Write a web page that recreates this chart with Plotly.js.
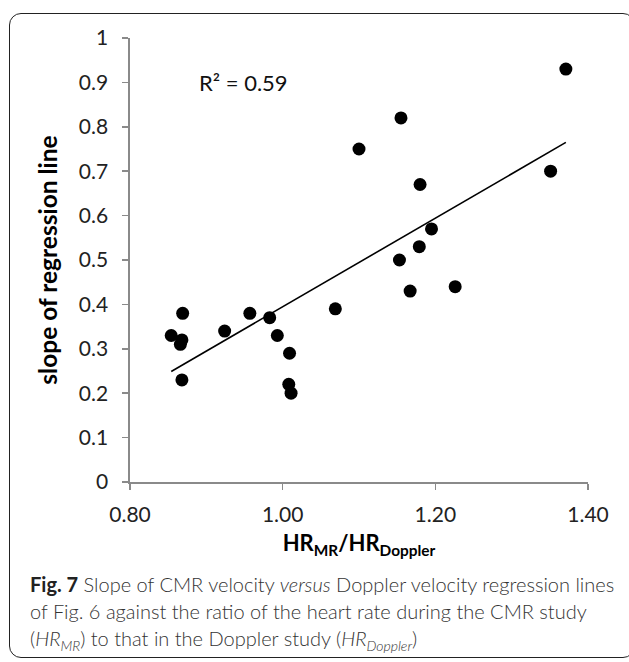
<!DOCTYPE html>
<html>
<head>
<meta charset="utf-8">
<script src="https://cdn.plot.ly/plotly-3.0.1.min.js"></script>
<style>
  html, body { margin: 0; padding: 0; background: #fff; }
  #wrap { position: relative; width: 629px; height: 662px; overflow: hidden; }
  #chart { position: absolute; left: 0; top: 0; width: 629px; height: 662px; }
  #frame { position: absolute; left: 9px; top: 13px; width: 626px; height: 645px;
           border: 1.6px solid #222; border-radius: 12px; box-sizing: border-box; pointer-events: none; }
  #caption { position: absolute; left: 30px; top: 571px; width: 600px;
             font-family: Lato, "Open Sans", sans-serif; font-size: 20px; line-height: 27px;
             color: #333; font-weight: 300; white-space: nowrap; }
  #caption b { font-weight: 700; color: #222; }
  #caption sub { font-size: 70%; vertical-align: -0.35em; line-height: 0; }
</style>
</head>
<body>
<div id="wrap">
  <div id="chart"></div>
  <div id="frame"></div>
  <div id="caption"><b>Fig. 7</b> Slope of CMR velocity <i>versus</i> Doppler velocity regression lines<br>of Fig. 6 against the ratio of the heart rate during the CMR study<br>(<i>HR<sub>MR</sub></i>) to that in the Doppler study (<i>HR<sub>Doppler</sub></i>)</div>
</div>
<script>
// Data
const hrRatio = [0.854, 0.869, 0.868, 0.866, 0.868, 0.924, 0.957, 0.983, 0.993, 1.009, 1.008, 1.011,
                 1.069, 1.100, 1.155, 1.180, 1.195, 1.179, 1.153, 1.167, 1.226, 1.351, 1.371];
const slopeVal = [0.33, 0.38, 0.32, 0.31, 0.23, 0.34, 0.38, 0.37, 0.33, 0.29, 0.22, 0.20,
                  0.39, 0.75, 0.82, 0.67, 0.57, 0.53, 0.50, 0.43, 0.44, 0.70, 0.93];
const yTickVals = [0, 0.1, 0.2, 0.3, 0.4, 0.5, 0.6, 0.7, 0.8, 0.9, 1];
const yTickText = ["0", "0.1", "0.2", "0.3", "0.4", "0.5", "0.6", "0.7", "0.8", "0.9", "1"];
const xTickVals = [0.8, 1.0, 1.2, 1.4];
const xTickText = ["0.80", "1.00", "1.20", "1.40"];
const r2Label = "R\u00b2 = 0.59";

// Least-squares trend line computed from the data
const n = hrRatio.length;
const mx = hrRatio.reduce((a, b) => a + b, 0) / n;
const my = slopeVal.reduce((a, b) => a + b, 0) / n;
let sxy = 0, sxx = 0;
for (let i = 0; i < n; i++) { sxy += (hrRatio[i] - mx) * (slopeVal[i] - my); sxx += (hrRatio[i] - mx) ** 2; }
const b1 = sxy / sxx, b0 = my - b1 * mx;
const xmin = Math.min(...hrRatio), xmax = Math.max(...hrRatio);
const trendX = [xmin, xmax];
const trendY = trendX.map(v => b0 + b1 * v);

const fontTick = "Lato, 'Open Sans', sans-serif";
const axisGray = "#8a8a8a";

const data = [
  { x: trendX, y: trendY, mode: "lines", type: "scatter",
    line: { color: "#000", width: 1.6 }, hoverinfo: "skip", showlegend: false },
  { x: hrRatio, y: slopeVal, mode: "markers", type: "scatter",
    marker: { color: "#000", size: 13, line: { width: 0 } }, showlegend: false }
];

const layout = {
  width: 629, height: 662,
  margin: { l: 130, r: 41, t: 38, b: 180 },
  paper_bgcolor: "#fff", plot_bgcolor: "#fff",
  showlegend: false,
  xaxis: {
    range: [0.8, 1.4], tickvals: xTickVals, ticktext: xTickText,
    showgrid: false, zeroline: false, showline: true, linecolor: axisGray, linewidth: 1.6,
    ticks: "outside", ticklen: 6, tickwidth: 1.6, tickcolor: axisGray,
    ticklabelstandoff: 7,
    tickfont: { family: fontTick, size: 21, color: "#222" },
    title: { text: "<b>HR<sub>MR</sub>/HR<sub>Doppler</sub></b>", standoff: 11,
             font: { family: fontTick, size: 22, color: "#000" } }
  },
  yaxis: {
    range: [0, 1], tickvals: yTickVals, ticktext: yTickText,
    showgrid: false, zeroline: false, showline: true, linecolor: axisGray, linewidth: 1.6,
    ticks: "outside", ticklen: 6, tickwidth: 1.6, tickcolor: axisGray,
    ticklabelstandoff: 10,
    tickfont: { family: fontTick, size: 21, color: "#222" },
    title: { text: "<b>slope of regression line</b>", standoff: 14,
             font: { family: fontTick, size: 24.5, color: "#000" } }
  },
  annotations: [
    { x: 0.888, y: 0.9, xref: "x", yref: "y", text: r2Label, showarrow: false,
      xanchor: "left", yanchor: "middle",
      font: { family: fontTick, size: 22, color: "#111" } }
  ]
};

Plotly.newPlot("chart", data, layout, { displayModeBar: false, staticPlot: true });
</script>
</body>
</html>
